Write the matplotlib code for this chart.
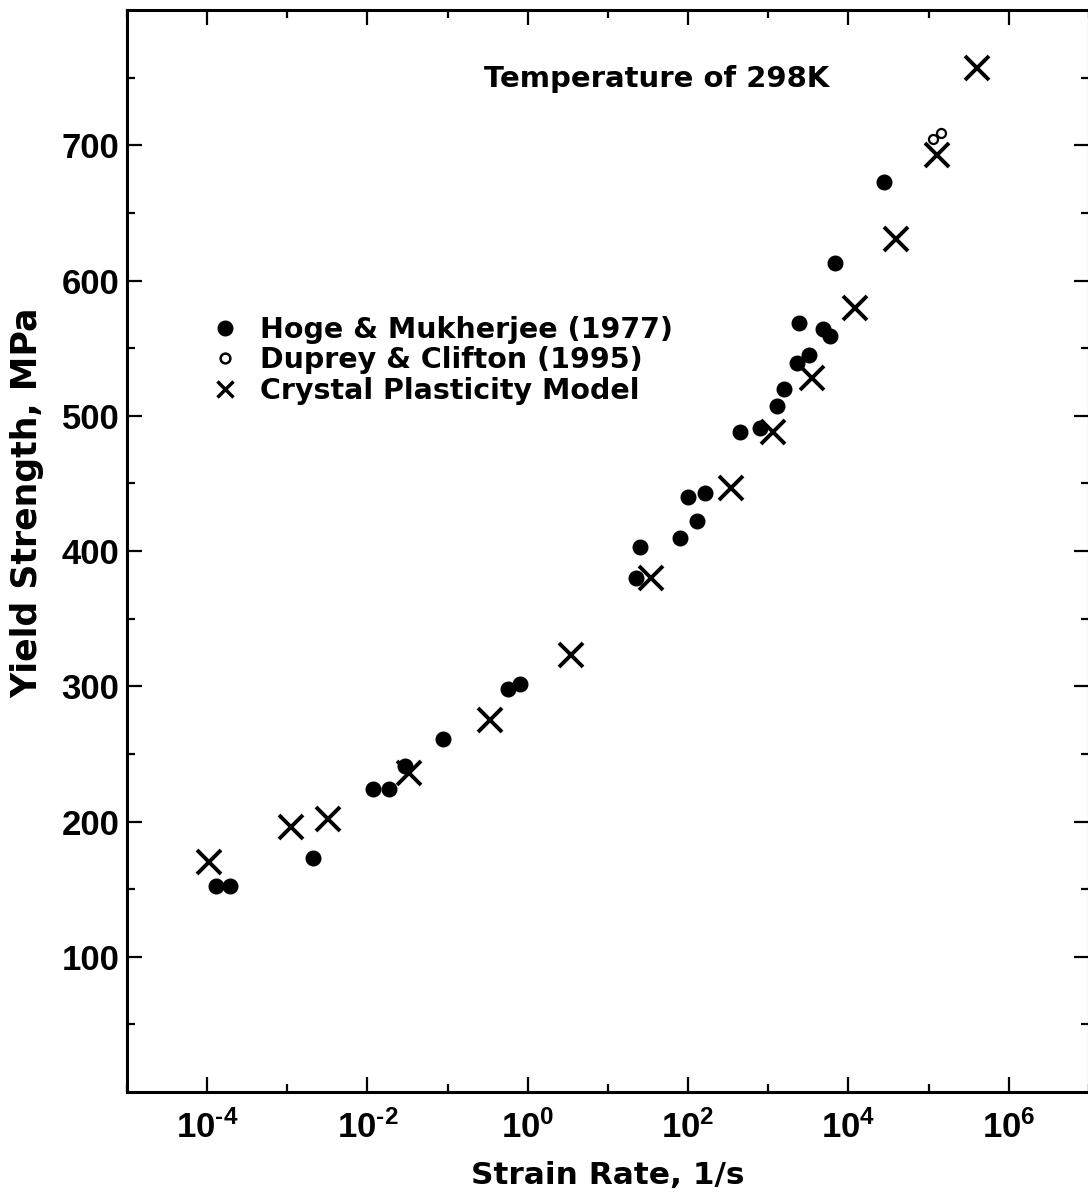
import numpy as np
import matplotlib
matplotlib.use('Agg')
import matplotlib.pyplot as plt
from matplotlib.lines import Line2D
from matplotlib.ticker import FixedLocator, FuncFormatter, NullFormatter

plt.rcParams['font.family'] = ['Liberation Sans', 'DejaVu Sans']
plt.rcParams['font.weight'] = 'bold'
plt.rcParams['mathtext.fontset'] = 'custom'
plt.rcParams['mathtext.rm'] = 'Liberation Sans:bold'
plt.rcParams['mathtext.default'] = 'regular'

# Hoge & Mukherjee (1977) - filled circles
hoge_rate = [1.3e-4, 1.95e-4, 2.1e-3, 1.17e-2, 1.86e-2, 2.95e-2, 8.7e-2, 0.56, 0.81,
             22.4, 25.1, 79, 100, 129, 162, 447, 794, 1290, 1550, 2290, 3240,
             2400, 4790, 5890, 6760, 27500]
hoge_ys = [152, 152, 173, 224, 224, 241, 261, 298, 302,
           380, 403, 410, 440, 422, 443, 488, 491, 507, 520, 539, 545,
           569, 564, 559, 613, 673]

# Duprey & Clifton (1995) - open circles
duprey_rate = [1.12e5, 1.41e5]
duprey_ys = [705, 709]

# crystal plasticity model - crosses
model_rate = [1.05e-4, 1.12e-3, 3.2e-3, 3.3e-2, 0.34, 3.47, 34.7, 339, 1150,
              3470, 1.2e4, 3.9e4, 1.26e5, 4.0e5]
model_ys = [170, 196, 202, 236, 275, 323, 380, 447, 488,
            528, 580, 631, 693, 757]

labels = ['Hoge & Mukherjee (1977)', 'Duprey & Clifton (1995)', 'Crystal Plasticity Model']

x_major = [1e-4, 1e-2, 1e0, 1e2, 1e4, 1e6]
x_minor = [1e-5, 1e-3, 1e-1, 1e1, 1e3, 1e5, 1e7]
y_major = [100, 200, 300, 400, 500, 600, 700]
y_minor = [50, 150, 250, 350, 450, 550, 650, 750]

wide = {'family': 'DejaVu Sans', 'weight': 'bold'}


def pow_label(v, pos):
    # short hyphen in the exponent, like the original
    e = str(int(round(np.log10(v)))).replace('-', '\u2010')
    return r'$\mathregular{10^{%s}}$' % e


fig = plt.figure(figsize=(10.88, 12.01), dpi=100)
ax = fig.add_axes([0.1167, 0.0907, 0.8842, 0.9009])

ax.plot(hoge_rate, hoge_ys, 'o', color='black', ms=10.5, ls='none')
ax.plot(duprey_rate, duprey_ys, 'o', mfc='white', mec='black', ms=6.5, mew=1.6, ls='none')
ax.plot(model_rate, model_ys, 'x', color='black', ms=17, mew=2.8, ls='none')

ax.set_xscale('log')
ax.set_xlim(1e-5, 1e7)
ax.set_ylim(0, 800)

ax.xaxis.set_major_locator(FixedLocator(x_major))
ax.xaxis.set_minor_locator(FixedLocator(x_minor))
ax.xaxis.set_major_formatter(FuncFormatter(pow_label))
ax.xaxis.set_minor_formatter(NullFormatter())
ax.yaxis.set_major_locator(FixedLocator(y_major))
ax.yaxis.set_minor_locator(FixedLocator(y_minor))

ax.tick_params(which='both', direction='in', top=True, right=True, width=1.6, labelsize=25)
ax.tick_params(which='major', length=11)
ax.tick_params(which='minor', length=6)
ax.tick_params(axis='x', which='major', pad=13)
ax.tick_params(axis='y', which='major', pad=5.5)
for s in ax.spines.values():
    s.set_linewidth(2.2)

ax.set_xlabel('Strain Rate, 1/s', fontsize=22.5, **wide)
ax.set_ylabel('Yield Strength, MPa', fontsize=25, **wide)
ax.xaxis.set_label_coords(0.5, -0.0638)
ax.yaxis.set_label_coords(-0.0863, 0.545)

ax.text(0.371, 0.9288, 'Temperature of 298K', transform=ax.transAxes,
        fontsize=21, va='baseline', ha='left', **wide)

handles = [Line2D([], [], marker='o', ls='none', color='black', ms=10.5),
           Line2D([], [], marker='o', ls='none', mfc='white', mec='black', ms=7, mew=1.8),
           Line2D([], [], marker='x', ls='none', color='black', ms=11.5, mew=2.5)]
ax.legend(handles, labels, loc='upper left', bbox_to_anchor=(0.0871, 0.7175),
          frameon=False, borderpad=0, borderaxespad=0, handlelength=1.0,
          handletextpad=0.73, labelspacing=0.085,
          prop={'family': 'DejaVu Sans', 'weight': 'bold', 'size': 20.5})

fig.savefig('out.png', dpi=100)
